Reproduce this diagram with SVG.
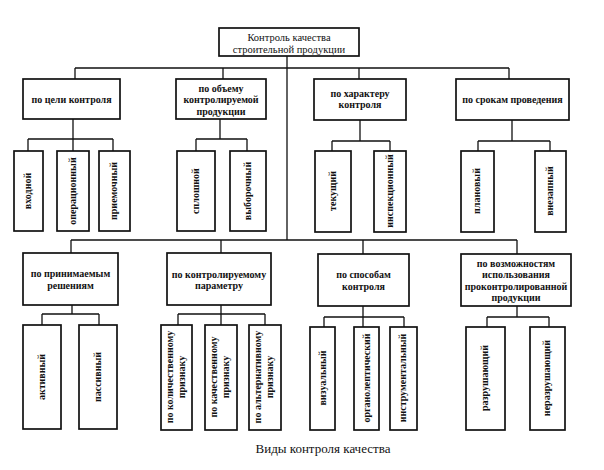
<svg xmlns="http://www.w3.org/2000/svg" width="604" height="470" viewBox="0 0 604 470" font-family="'Liberation Serif', 'DejaVu Serif', serif">
<style>
.box{fill:#fff;stroke:#111;stroke-width:1.7}
.conn{fill:none;stroke:#111;stroke-width:1.3}
text{font-family:'Liberation Serif','DejaVu Serif',serif}
.t{font-size:10px;font-weight:bold;text-anchor:middle;fill:#111}
.top{font-weight:normal;font-size:10.5px}
.cap{font-size:13px;text-anchor:middle;fill:#111}
</style>
<rect width="604" height="470" fill="#fff"/>
<g id="connectors" class="conn">
<path d="M287 56V240M75 68H509M75 68V79M223 68V79M359 68V79M509 68V79"/>
<path d="M73 119V139M28 139H113M28 139V151M73 139V151M113 139V151"/>
<path d="M220 119V139M196 139H247M196 139V151M247 139V151"/>
<path d="M360 120V141M332 141H390M332 141V151M390 141V151"/>
<path d="M512 120V141M478 141H550M478 141V151M550 141V151"/>
<path d="M71 240H517M71 240V253M221 240V253M363 240V254M517 240V254"/>
<path d="M72 305V314M42 314H99M42 314V325M99 314V325"/>
<path d="M221 305V314M178 314H265M178 314V325M221 314V325M265 314V325"/>
<path d="M363 306V317M324 317H404M324 317V327M363 317V327M404 317V327"/>
<path d="M517 306V317M487 317H549M487 317V327M549 317V327"/>
</g>
<g id="root"><rect class="box" x="219" y="28" width="140" height="28"/><text class="t top" x="289" y="40.5">Контроль качества</text><text class="t top" x="289" y="52.5">строительной продукции</text></g>

<g id="c1"><rect class="box" x="23" y="79" width="97" height="40"/><text class="t" x="71.5" y="102.5">по цели контроля</text></g>
<g id="c2"><rect class="box" x="176" y="79" width="90" height="40"/><text class="t" x="221" y="91.5">по объему</text><text class="t" x="221" y="103">контролируемой</text><text class="t" x="221" y="114.5">продукции</text></g>
<g id="c3"><rect class="box" x="314" y="79" width="92" height="41"/><text class="t" x="360" y="96.5">по характеру</text><text class="t" x="360" y="108">контроля</text></g>
<g id="c4"><rect class="box" x="456" y="79" width="113" height="41"/><text class="t" x="512.5" y="102.5">по срокам проведения</text></g>

<g id="l1"><rect class="box" x="14" y="151" width="29" height="80"/><text class="t" transform="translate(31,191) rotate(-90)">входной</text></g>
<g id="l2"><rect class="box" x="57" y="151" width="32" height="80"/><text class="t" transform="translate(75.5,191) rotate(-90)">операционный</text></g>
<g id="l3"><rect class="box" x="99" y="151" width="31" height="80"/><text class="t" transform="translate(117,191) rotate(-90)">приемочный</text></g>
<g id="l4"><rect class="box" x="177" y="151" width="38" height="80"/><text class="t" transform="translate(198.5,191) rotate(-90)">сплошной</text></g>
<g id="l5"><rect class="box" x="230" y="151" width="36" height="80"/><text class="t" transform="translate(250.5,191) rotate(-90)">выборочный</text></g>
<g id="l6"><rect class="box" x="315" y="151" width="36" height="81"/><text class="t" transform="translate(335.5,191) rotate(-90)">текущий</text></g>
<g id="l7"><rect class="box" x="374" y="151" width="32" height="81"/><text class="t" transform="translate(392.5,191) rotate(-90)">инспекционный</text></g>
<g id="l8"><rect class="box" x="461" y="151" width="33" height="81"/><text class="t" transform="translate(480,191) rotate(-90)">плановый</text></g>
<g id="l9"><rect class="box" x="535" y="151" width="31" height="81"/><text class="t" transform="translate(553,191) rotate(-90)">внезапный</text></g>

<g id="c5"><rect class="box" x="23" y="253" width="95" height="52"/><text class="t" x="70.5" y="276.5">по принимаемым</text><text class="t" x="70.5" y="288.5">решениям</text></g>
<g id="c6"><rect class="box" x="167" y="253" width="104" height="52"/><text class="t" x="219" y="277.5">по контролируемому</text><text class="t" x="219" y="289">параметру</text></g>
<g id="c7"><rect class="box" x="318" y="254" width="91" height="52"/><text class="t" x="363.5" y="277.5">по способам</text><text class="t" x="363.5" y="290">контроля</text></g>
<g id="c8"><rect class="box" x="461" y="254" width="110" height="52"/><text class="t" x="516" y="266.5">по возможностям</text><text class="t" x="516" y="278">использования</text><text class="t" x="516" y="289.5">проконтролированной</text><text class="t" x="516" y="301">продукции</text></g>

<g id="m1"><rect class="box" x="23" y="325" width="38" height="104"/><text class="t" transform="translate(44.5,377) rotate(-90)">активный</text></g>
<g id="m2"><rect class="box" x="79" y="325" width="38" height="104"/><text class="t" transform="translate(100.5,377) rotate(-90)">пассивный</text></g>
<g id="m3"><rect class="box" x="161" y="325" width="31" height="105"/><text class="t" transform="translate(172.5,377) rotate(-90)">по количественному</text><text class="t" transform="translate(184.5,377) rotate(-90)">признаку</text></g>
<g id="m4"><rect class="box" x="205" y="325" width="32" height="105"/><text class="t" transform="translate(217,377) rotate(-90)">по качественному</text><text class="t" transform="translate(229,377) rotate(-90)">признаку</text></g>
<g id="m5"><rect class="box" x="249" y="325" width="32" height="105"/><text class="t" transform="translate(261,377) rotate(-90)">по альтернативному</text><text class="t" transform="translate(273,377) rotate(-90)">признаку</text></g>
<g id="m6"><rect class="box" x="310" y="327" width="25" height="103"/><text class="t" transform="translate(325.5,378) rotate(-90)">визуальный</text></g>
<g id="m7"><rect class="box" x="354" y="327" width="25" height="103"/><text class="t" transform="translate(369.5,378) rotate(-90)">органолептический</text></g>
<g id="m8"><rect class="box" x="390" y="327" width="27" height="103"/><text class="t" transform="translate(406,378) rotate(-90)">инструментальный</text></g>
<g id="m9"><rect class="box" x="466" y="327" width="39" height="103"/><text class="t" transform="translate(488,378) rotate(-90)">разрушающий</text></g>
<g id="m10"><rect class="box" x="530" y="327" width="35" height="103"/><text class="t" transform="translate(550,378) rotate(-90)">неразрушающий</text></g>

<text class="cap" x="323" y="453">Виды контроля качества</text>
</svg>
